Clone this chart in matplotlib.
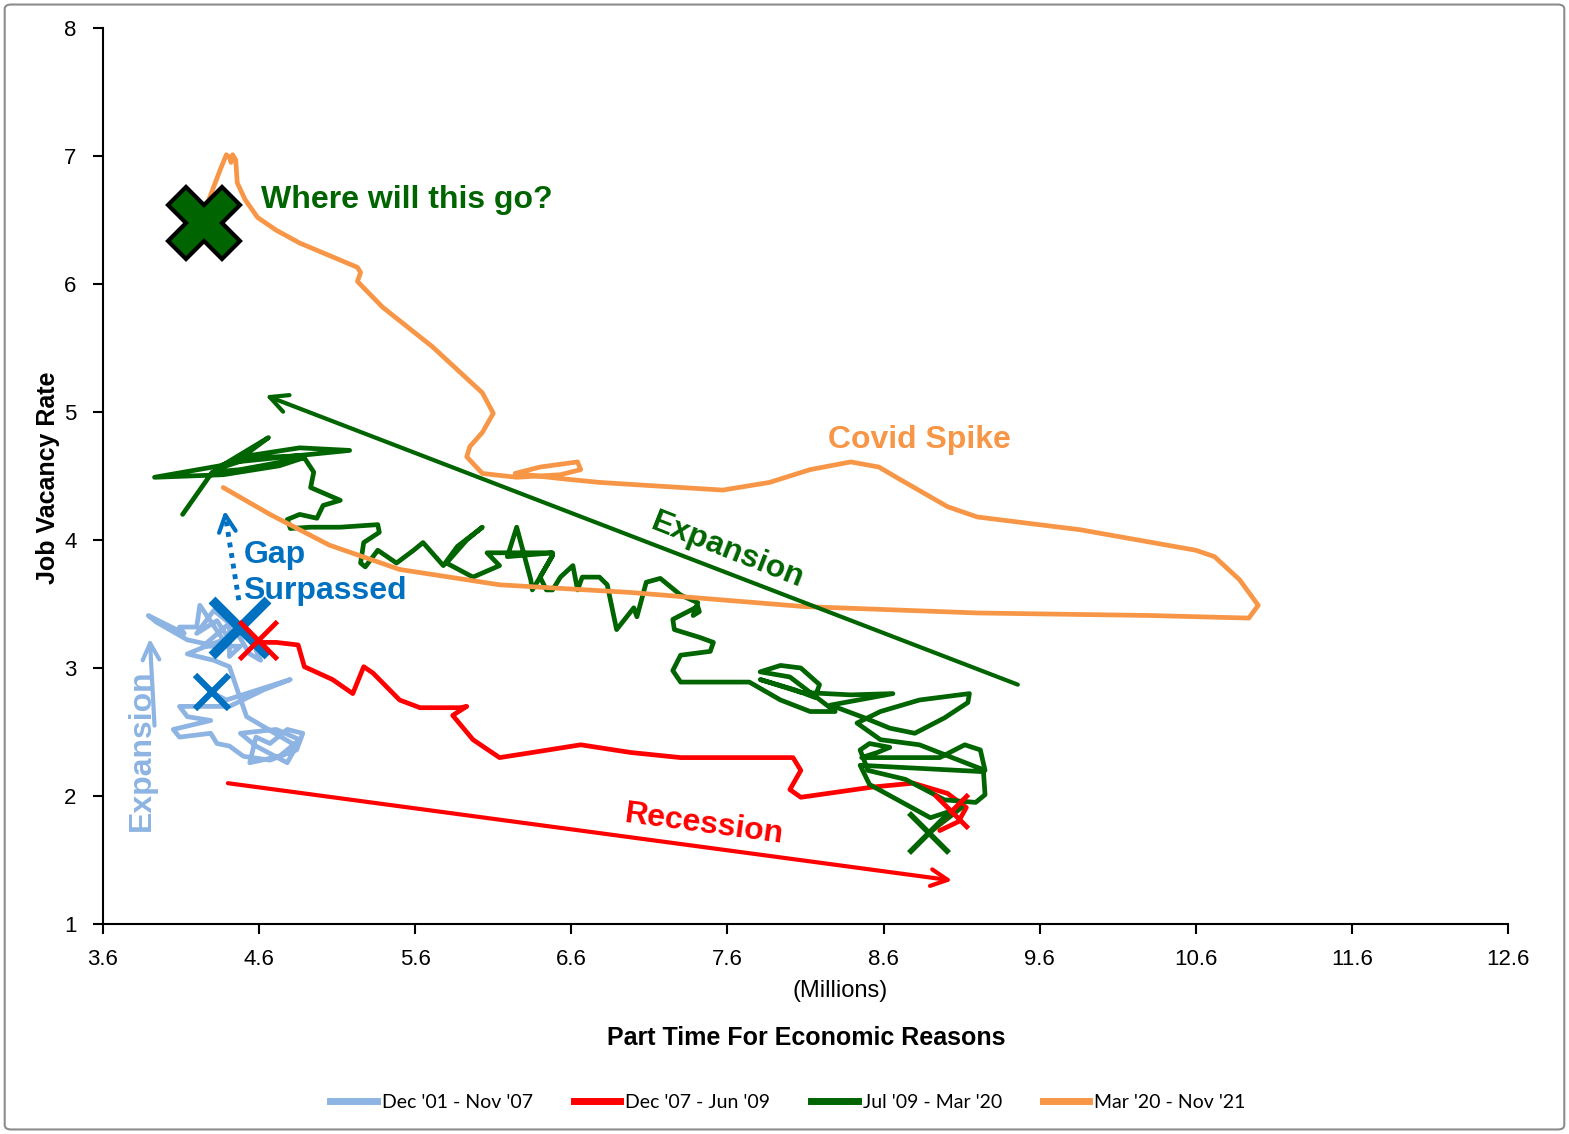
import matplotlib
matplotlib.use("Agg")
import matplotlib.pyplot as plt
from matplotlib.patches import FancyBboxPatch
from matplotlib.lines import Line2D

plt.rcParams['font.family'] = ['Liberation Sans', 'DejaVu Sans']

# ---------------- data ----------------
series_labels = ["Dec '01 - Nov '07", "Dec '07 - Jun '09", "Jul '09 - Mar '20", "Mar '20 - Nov '21"]
series_colors = ["#8DB4E2", "#FF0000", "#006400", "#F79646"]

blue_x = [4.31, 4.39, 4.80, 4.63, 4.41, 4.09, 4.14, 4.29, 4.05, 4.09, 4.29, 4.33, 4.41, 4.50,
          4.67, 4.84, 4.88, 4.78, 4.67, 4.58, 4.54, 4.73, 4.86, 4.71, 4.48, 4.58, 4.78, 4.84,
          4.52, 4.46, 4.41, 4.31, 4.14, 4.26, 4.37, 4.22, 4.20, 4.09, 4.12, 3.89, 3.94, 4.14,
          4.33, 4.41, 4.33, 4.20, 4.31, 4.41, 4.24, 4.48, 4.41, 4.41, 4.46, 4.54, 4.61, 4.58]
blue_y = [2.80, 2.75, 2.91, 2.83, 2.70, 2.70, 2.62, 2.59, 2.52, 2.46, 2.49, 2.41, 2.39, 2.31,
          2.28, 2.36, 2.49, 2.52, 2.41, 2.46, 2.26, 2.31, 2.44, 2.52, 2.49, 2.39, 2.26, 2.39,
          2.62, 2.83, 3.01, 3.06, 3.11, 3.17, 3.22, 3.49, 3.32, 3.32, 3.27, 3.41, 3.36, 3.22,
          3.17, 3.22, 3.37, 3.27, 3.45, 3.35, 3.17, 3.17, 3.09, 3.40, 3.27, 3.11, 3.06, 3.14]

red_x = [4.61, 4.71, 4.85, 4.89, 5.07, 5.20, 5.27, 5.33, 5.50, 5.63, 5.89, 5.93, 5.84, 5.97,
         6.14, 6.35, 6.66, 6.98, 7.30, 8.02, 8.07, 8.00, 8.07, 8.53, 8.79, 9.01, 9.13, 9.08, 8.96]
red_y = [3.20, 3.20, 3.18, 3.01, 2.91, 2.80, 3.01, 2.96, 2.75, 2.69, 2.69, 2.70, 2.63, 2.44,
         2.30, 2.34, 2.40, 2.34, 2.30, 2.30, 2.20, 2.05, 1.99, 2.07, 2.10, 2.02, 1.91, 1.80, 1.73]

green_x = [8.89, 9.10, 8.90, 8.51, 8.45, 9.24, 9.25, 9.19, 8.99, 8.74, 8.50, 8.45, 8.51, 8.64,
           8.56, 8.46, 8.96, 9.12, 9.22, 9.25, 8.83, 8.58, 8.43, 8.58, 8.83, 9.15, 9.14, 8.99,
           8.80, 8.64, 8.48, 8.26, 8.66, 8.39, 8.07, 7.81, 8.03, 8.16, 8.19, 8.07, 7.94, 7.81,
           8.00, 8.29, 8.13, 7.94, 7.74, 7.42, 7.30, 7.25, 7.30, 7.49, 7.51, 7.42, 7.26, 7.25,
           7.41, 7.42, 7.38, 7.41, 7.30, 7.17, 7.08, 7.02, 7.00, 6.89, 6.83, 6.78, 6.67, 6.64,
           6.61, 6.53, 6.48, 6.44, 6.40, 6.48, 6.40, 6.35, 6.34, 6.25, 6.19, 6.48, 6.06, 6.14,
           5.97, 5.80, 5.93, 6.03, 5.87, 5.78, 5.65, 5.59, 5.48, 5.36, 5.28, 5.25, 5.27, 5.37,
           5.36, 5.12, 4.93, 4.80, 4.78, 4.86, 4.97, 5.01, 5.12, 4.93, 4.95, 4.88, 4.54, 4.32,
           4.66, 4.45, 5.18, 4.86, 4.54, 4.35, 3.93, 4.37, 4.73, 4.88, 4.48, 4.30, 4.11]
green_y = [1.71, 1.91, 1.83, 2.09, 2.24, 2.19, 2.01, 1.95, 1.97, 2.13, 2.20, 2.36, 2.41, 2.38,
           2.34, 2.30, 2.30, 2.40, 2.36, 2.20, 2.40, 2.44, 2.57, 2.66, 2.75, 2.80, 2.73, 2.61,
           2.49, 2.53, 2.61, 2.71, 2.80, 2.79, 2.81, 2.91, 2.83, 2.77, 2.87, 3.00, 3.02, 2.97,
           2.93, 2.66, 2.66, 2.75, 2.89, 2.89, 2.89, 2.98, 3.10, 3.13, 3.20, 3.24, 3.30, 3.38,
           3.48, 3.44, 3.41, 3.51, 3.57, 3.70, 3.67, 3.40, 3.47, 3.30, 3.65, 3.71, 3.71, 3.61,
           3.80, 3.71, 3.61, 3.61, 3.71, 3.88, 3.71, 3.61, 3.69, 4.10, 3.87, 3.90, 3.90, 3.80,
           3.71, 3.82, 4.00, 4.10, 3.95, 3.80, 3.98, 3.92, 3.82, 3.92, 3.79, 3.82, 3.98, 4.06,
           4.12, 4.10, 4.10, 4.09, 4.16, 4.20, 4.17, 4.27, 4.31, 4.41, 4.53, 4.66, 4.64, 4.55,
           4.80, 4.61, 4.70, 4.72, 4.66, 4.58, 4.49, 4.51, 4.58, 4.64, 4.55, 4.53, 4.20]

orange_x = [4.37, 4.67, 5.05, 5.50, 6.14, 6.98, 8.09, 9.20, 10.31, 10.94, 11.00, 10.88, 10.72, 10.60,
            9.86, 9.20, 9.01, 8.71, 8.57, 8.39, 8.13, 7.87, 7.57, 7.04, 6.78, 6.53, 6.24, 6.40,
            6.64, 6.66, 6.53, 6.25, 6.03, 5.93, 5.95, 6.03, 6.10, 6.03, 5.71, 5.39, 5.23, 5.25,
            5.23, 4.86, 4.71, 4.59, 4.51, 4.46, 4.45, 4.43, 4.42, 4.41, 4.39, 4.35, 4.30, 4.27]
orange_y = [4.41, 4.20, 3.96, 3.77, 3.65, 3.59, 3.48, 3.43, 3.41, 3.39, 3.49, 3.69, 3.87, 3.92,
            4.08, 4.18, 4.26, 4.47, 4.57, 4.61, 4.55, 4.45, 4.39, 4.43, 4.45, 4.48, 4.52, 4.57,
            4.61, 4.55, 4.51, 4.49, 4.52, 4.65, 4.73, 4.84, 4.99, 5.15, 5.51, 5.82, 6.02, 6.09,
            6.13, 6.32, 6.42, 6.52, 6.66, 6.79, 6.97, 7.01, 6.95, 6.99, 7.01, 6.89, 6.73, 6.63]

x_ticks = [3.6, 4.6, 5.6, 6.6, 7.6, 8.6, 9.6, 10.6, 11.6, 12.6]
y_ticks = [1, 2, 3, 4, 5, 6, 7, 8]

# marker points
big_green_X = (4.25, 6.48)
blue_X_big = (4.48, 3.31)
blue_X_small = (4.30, 2.81)
red_X_start = (4.59, 3.22)
red_X_end = (9.03, 1.88)
green_X_start = (8.89, 1.71)

# ---------------- figure ----------------
fig = plt.figure(figsize=(15.69, 11.34), dpi=100)
ax = fig.add_axes([103/1569, 1-924/1134, (1508-103)/1569, (924-28)/1134])

lw = 3.4
kw = dict(lw=lw, solid_joinstyle='round', solid_capstyle='round')
ax.plot(blue_x, blue_y, color=series_colors[0], zorder=2, **kw)
ax.plot(red_x, red_y, color=series_colors[1], zorder=3, **kw)
ax.plot(green_x, green_y, color=series_colors[2], zorder=4, **kw)
ax.plot(orange_x, orange_y, color=series_colors[3], zorder=5, **kw)

# markers
ax.plot(*blue_X_big, marker='x', ms=40, mew=7, color='#0070C0', zorder=7)
ax.plot(*blue_X_small, marker='x', ms=25, mew=4.5, color='#0070C0', zorder=7)
ax.plot(*red_X_start, marker='x', ms=27, mew=3.5, color='#FF0000', zorder=8)
ax.plot(*red_X_end, marker='x', ms=24, mew=3.5, color='#FF0000', zorder=8)
ax.plot(*green_X_start, marker='x', ms=29, mew=4, color='#006400', zorder=8)
ax.plot(*big_green_X, marker='X', ms=52, mew=3, mfc='#006400', mec='black', zorder=9)

# arrows
ax.annotate('', xy=(4.64, 5.13), xytext=(9.46, 2.87),
            arrowprops=dict(arrowstyle='->', lw=3, color='#006400', mutation_scale=32, shrinkA=0, shrinkB=0), zorder=6)
ax.annotate('', xy=(9.04, 1.34), xytext=(4.40, 2.10),
            arrowprops=dict(arrowstyle='->', lw=3, color='#FF0000', mutation_scale=30, shrinkA=0, shrinkB=0), zorder=6)
ax.annotate('', xy=(3.90, 3.23), xytext=(3.93, 2.55),
            arrowprops=dict(arrowstyle='->', lw=3, color='#8DB4E2', mutation_scale=30, shrinkA=0, shrinkB=0), zorder=6)
ax.plot([4.47, 4.385], [3.53, 4.18], color='#0070C0', lw=3.5, ls=(0, (1, 1.2)), zorder=6)
ax.annotate('', xy=(4.38, 4.23), xytext=(4.386, 4.17),
            arrowprops=dict(arrowstyle='->', lw=3, color='#0070C0', mutation_scale=30, shrinkA=0, shrinkB=0), zorder=6)

# annotation texts
ax.text(4.61, 6.66, 'Where will this go?', color='#006400', fontsize=23, fontweight='bold',
        ha='left', va='center', zorder=10)
ax.text(8.83, 4.78, 'Covid Spike', color='#F79646', fontsize=23, fontweight='bold',
        ha='center', va='center', zorder=10)
ax.text(7.60, 3.92, 'Expansion', color='#006400', fontsize=23, fontweight='bold',
        ha='center', va='center', rotation=-21.5, rotation_mode='anchor', zorder=10)
ax.text(7.45, 1.78, 'Recession', color='#FF0000', fontsize=23, fontweight='bold',
        ha='center', va='center', rotation=-7.6, rotation_mode='anchor', zorder=10)
ax.text(4.50, 3.74, 'Gap\nSurpassed', color='#0070C0', fontsize=23, fontweight='bold',
        ha='left', va='center', multialignment='left', linespacing=1.25, zorder=10)
ax.text(3.85, 2.36, 'Expansion', color='#8DB4E2', fontsize=23, fontweight='bold',
        ha='center', va='center', rotation=90, zorder=10)

# axes styling
ax.set_xlim(3.6, 12.6)
ax.set_ylim(1, 8)
ax.set_xticks(x_ticks)
ax.set_xticklabels([f"{v:.1f}" for v in x_ticks])
ax.set_yticks(y_ticks)
ax.set_yticklabels([str(v) for v in y_ticks])
ax.tick_params(axis='both', labelsize=16, length=7, width=1.5, direction='out', color='black')
ax.tick_params(axis='x', pad=11)
ax.tick_params(axis='y', pad=12)
for s in ['top', 'right']:
    ax.spines[s].set_visible(False)
for s in ['left', 'bottom']:
    ax.spines[s].set_linewidth(1.5)
    ax.spines[s].set_color('black')

fig.text(840/1569, 1-991/1134, '(Millions)', fontsize=17, ha='center', va='center')
fig.text(806/1569, 1-1038/1134, 'Part Time For Economic Reasons', fontsize=18, fontweight='bold',
         ha='center', va='center')
fig.text(48/1569, 1-478/1134, 'Job Vacancy Rate', fontsize=18, fontweight='bold',
         ha='center', va='center', rotation=90)

# legend
handles = [Line2D([0], [0], color=c, lw=5) for c in series_colors]
fig.legend(handles, series_labels, loc='center', bbox_to_anchor=(788/1569, 1-1102/1134),
           ncol=4, frameon=False, prop={'family': ['Lato', 'DejaVu Sans'], 'size': 14},
           handlelength=2.4, handletextpad=0.25, columnspacing=2.1)

# outer border
border = FancyBboxPatch((0.003, 0.004), 0.994, 0.992, boxstyle='round,pad=0,rounding_size=0.004',
                        transform=fig.transFigure, fill=False, edgecolor='#8c8c8c', lw=1.5)
fig.patches.append(border)

fig.savefig('out.png', dpi=100, facecolor='white')
